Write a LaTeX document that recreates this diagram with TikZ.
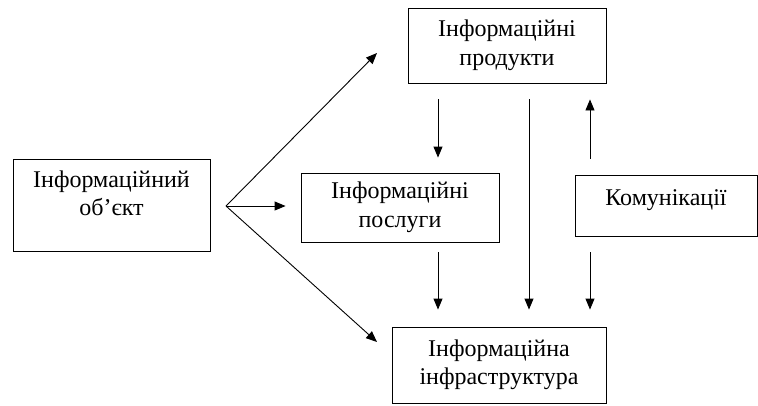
\documentclass[tikz,border=0pt]{standalone}
\usepackage{fontspec}
\setmainfont{Liberation Serif}
\usetikzlibrary{arrows.meta}

\begin{document}
\begin{tikzpicture}[x=1pt, y=-1pt, font=\fontsize{24}{28.5}\selectfont,
    blok/.style={draw, line width=0.9pt, align=center, inner sep=0pt},
    arr/.style={-{Triangle[length=11pt,width=9pt]}, line width=0.9pt}]

    % Page frame
    \useasboundingbox (0,0) rectangle (758,405);

    % Boxes
    \node[blok, minimum width=197pt, minimum height=92pt] (obj) at (111.5,205)
        {Інформаційний\\ об’єкт\\[-13pt]\strut};
    \node[blok, minimum width=198pt, minimum height=75pt] (prod) at (507,45.5)
        {Інформаційні\\ продукти};
    \node[blok, minimum width=198pt, minimum height=69pt] (serv) at (400,207.5)
        {Інформаційні\\ послуги};
    \node[blok, minimum width=182pt, minimum height=61pt] (kom) at (666,205.5)
        {Комунікації\\[-21pt]\strut};
    \node[blok, minimum width=214pt, minimum height=76pt] (infra) at (499,365)
        {Інформаційна\\ інфраструктура};

    % Free ends of the connectors
    \coordinate (fork) at (226,206);
    \coordinate (toprod) at (377,53);
    \coordinate (toinfra) at (377,342);
    \coordinate (x1) at (438,0);
    \coordinate (x2) at (529,0);
    \coordinate (x3) at (590,0);

    % Connectors from the object
    \draw[arr] (fork) -- (toprod);
    \draw[arr] (fork) -- ([xshift=-15pt]serv.west |- fork);
    \draw[arr] (fork) -- (toinfra);

    % Vertical connectors
    \draw[arr, shorten <=16pt, shorten >=15pt] (prod.south -| x1) -- (serv.north -| x1);
    \draw[arr, shorten <=10pt, shorten >=17pt] (serv.south -| x1) -- (infra.north -| x1);
    \draw[arr, shorten <=16pt, shorten >=17pt] (prod.south -| x2) -- (infra.north -| x2);
    \draw[arr, shorten <=16pt, shorten >=16pt] (kom.north -| x3) -- (prod.south -| x3);
    \draw[arr, shorten <=16pt, shorten >=17pt] (kom.south -| x3) -- (infra.north -| x3);
\end{tikzpicture}
\end{document}
